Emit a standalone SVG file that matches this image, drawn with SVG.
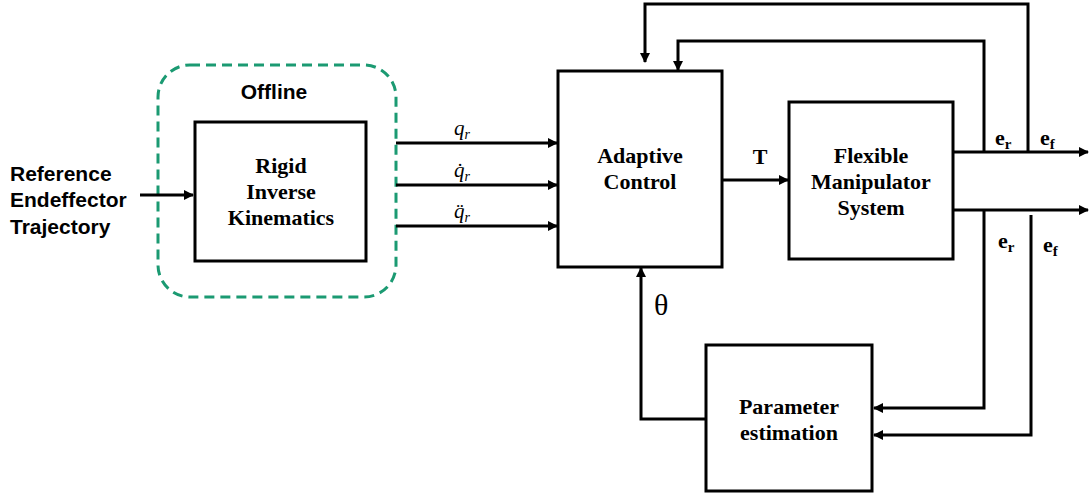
<svg xmlns="http://www.w3.org/2000/svg" width="1091" height="498" viewBox="0 0 1091 498">
<style>
.box{fill:#fff;stroke:#000;stroke-width:3}
.ln{fill:none;stroke:#000;stroke-width:3}
.tb{font-family:"Liberation Serif",serif;font-weight:bold;font-size:22px;text-anchor:middle;fill:#000}
.ta{font-family:"Liberation Sans",Arial,sans-serif;font-weight:bold;font-size:21px;fill:#000}
.ti{font-family:"Liberation Serif",serif;font-style:italic;font-size:21px;text-anchor:middle;fill:#000}
.e{font-family:"Liberation Serif",serif;font-weight:bold;font-size:22px;fill:#000}
</style>
<defs>
<marker id="ah" markerWidth="10" markerHeight="10" refX="9" refY="5" orient="auto" markerUnits="userSpaceOnUse">
<path d="M0,0 L10,5 L0,10 Z" fill="#000"/>
</marker>
</defs>
<g id="offline">
<rect x="158" y="65" width="238" height="232" rx="32" ry="32" fill="none" stroke="#1B9A72" stroke-width="3" stroke-dasharray="10,6"/>
<text class="ta" x="274" y="99" text-anchor="middle" font-size="20.5">Offline</text>
</g>
<g id="reference">
<text class="ta" x="10" y="181">Reference</text>
<text class="ta" x="10" y="207">Endeffector</text>
<text class="ta" x="10" y="234">Trajectory</text>
</g>
<g id="rigid">
<rect class="box" x="195" y="122" width="171" height="139"/>
<text class="tb" x="281" y="173">Rigid</text>
<text class="tb" x="281" y="199">Inverse</text>
<text class="tb" x="281" y="225">Kinematics</text>
</g>
<g id="adaptive">
<rect class="box" x="558" y="71" width="164" height="196"/>
<text class="tb" x="640" y="163">Adaptive</text>
<text class="tb" x="640" y="189">Control</text>
</g>
<g id="flexible">
<rect class="box" x="789" y="102" width="164" height="157"/>
<text class="tb" x="871" y="163">Flexible</text>
<text class="tb" x="871" y="189">Manipulator</text>
<text class="tb" x="871" y="215">System</text>
</g>
<g id="param">
<rect class="box" x="706" y="345" width="166" height="146"/>
<text class="tb" x="789" y="414">Parameter</text>
<text class="tb" x="789" y="440">estimation</text>
</g>
<g id="connectors">
<line class="ln" x1="140" y1="195" x2="193" y2="195" marker-end="url(#ah)"/>
<line class="ln" x1="396" y1="143" x2="557" y2="143" marker-end="url(#ah)"/>
<line class="ln" x1="396" y1="185" x2="557" y2="185" marker-end="url(#ah)"/>
<line class="ln" x1="396" y1="226" x2="557" y2="226" marker-end="url(#ah)"/>
<line class="ln" x1="722" y1="180" x2="788" y2="180" marker-end="url(#ah)"/>
<line class="ln" x1="953" y1="152" x2="1088" y2="152" marker-end="url(#ah)"/>
<line class="ln" x1="953" y1="210" x2="1088" y2="210" marker-end="url(#ah)"/>
<polyline class="ln" points="1028,152 1028,4 645,4 645,62" marker-end="url(#ah)"/>
<polyline class="ln" points="984,152 984,41 678,41 678,70" marker-end="url(#ah)"/>
<polyline class="ln" points="984,210 984,408 874,408" marker-end="url(#ah)"/>
<polyline class="ln" points="1031,215 1031,435 874,435" marker-end="url(#ah)"/>
<polyline class="ln" points="706,419 641,419 641,268" marker-end="url(#ah)"/>
</g>
<g id="labels">
<text class="ti" x="462" y="135">q<tspan font-size="14" dy="4">r</tspan></text>
<text class="ti" x="462" y="177">q̇<tspan font-size="14" dy="4">r</tspan></text>
<text class="ti" x="462" y="218">q̈<tspan font-size="14" dy="4">r</tspan></text>
<text class="tb" x="760" y="164">T</text>
<text class="e" x="995" y="145">e<tspan font-size="15" dy="4">r</tspan></text>
<text class="e" x="1040" y="145">e<tspan font-size="15" dy="4">f</tspan></text>
<text class="e" x="998" y="248">e<tspan font-size="15" dy="4">r</tspan></text>
<text class="e" x="1043" y="252">e<tspan font-size="15" dy="4">f</tspan></text>
<text x="654" y="315" font-family="Liberation Serif,serif" font-size="30" fill="#000">θ</text>
</g>
</svg>
